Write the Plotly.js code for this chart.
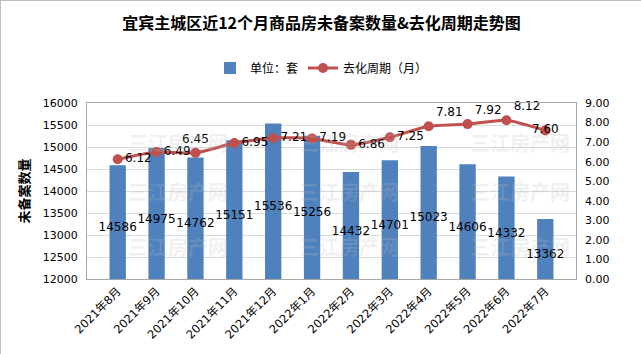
<!DOCTYPE html>
<html><head><meta charset="utf-8">
<script src="https://cdn.plot.ly/plotly-3.0.1.min.js"></script>
<style>html,body{margin:0;padding:0;background:#fff}#chart{width:641px;height:354px;box-sizing:border-box;border:1px solid #BFBFBF}</style>
</head><body><div id="chart"></div>
<script>
const months = ['2021年8月','2021年9月','2021年10月','2021年11月','2021年12月','2022年1月','2022年2月','2022年3月','2022年4月','2022年5月','2022年6月','2022年7月'];
const unsold = [14586,14975,14762,15151,15536,15256,14432,14701,15023,14606,14332,13362];
const cycle = [6.12,6.49,6.45,6.95,7.21,7.19,6.86,7.25,7.81,7.92,8.12,7.60];
const cycleLabelPos = ['middle right','middle right','top center','middle right','middle right','middle right','middle right','middle right','top right','top right','top right','middle center'];
const yMin = 12000;

const fontCJK = 'Noto Sans CJK SC, sans-serif';
const fontNum = 'DejaVu Sans, Noto Sans CJK SC, sans-serif';

const traces = [
  {type:'bar', name:'单位：套', x:months, y:unsold, marker:{color:'#4F81BD'}, hoverinfo:'x+y'},
  {type:'scatter', mode:'text', showlegend:false, x:months, y:unsold.map(v=>(v+yMin)/2),
   text:unsold.map(String), textposition:'bottom center', cliponaxis:false,
   textfont:{family:fontNum,size:12,color:'#000'}, hoverinfo:'skip'},
  {type:'scatter', mode:'lines+markers+text', name:'去化周期（月）', x:months, y:cycle, yaxis:'y2',
   line:{color:'#C0504D',width:3,shape:'spline',smoothing:0.6}, marker:{color:'#C0504D',size:10},
   text:cycle.map(v=>v.toFixed(2)), textposition:cycleLabelPos, cliponaxis:false,
   textfont:{family:fontNum,size:12,color:'#000'}}
];

const wm = [];
[0.87,0.5,0.09].forEach(yy=>{[0.08,0.43,0.78].forEach(xx=>{
  wm.push({xref:'paper',yref:'paper',x:xx,y:yy,text:'三江房产网',showarrow:false,
    font:{family:fontCJK,size:20,color:'rgba(190,190,190,0.22)',weight:'bold'},xanchor:'left'});
});});

const layout = {
  width:641, height:354, margin:{l:86,r:66,t:102,b:76},
  paper_bgcolor:'#fff', plot_bgcolor:'#fff',
  title:{text:'宜宾主城区近12个月商品房未备案数量&去化周期走势图', font:{family:fontCJK,size:16,color:'#000',weight:'bold'},
    x:0.5, xanchor:'center', y:1-22/354, yanchor:'middle', yref:'container'},
  legend:{orientation:'h', x:0.5, xanchor:'center', xref:'container', y:1-67/354, yanchor:'middle', yref:'container',
    font:{family:fontCJK,size:12,color:'#000'}, itemwidth:30},
  bargap:0.58,
  xaxis:{type:'category', tickangle:-45, tickfont:{family:fontNum,size:11.5,color:'#000'}, showline:true, linecolor:'#A6A6A6', mirror:true, showgrid:false, ticks:'', automargin:false},
  yaxis:{range:[yMin,16000], dtick:500, tickformat:'d', tickfont:{family:fontNum,size:11,color:'#000'}, gridcolor:'#D9D9D9', showline:true, linecolor:'#A6A6A6', mirror:true, zeroline:false, ticklabelstandoff:6,
    title:{text:'未备案数量', font:{family:fontCJK,size:13,color:'#000',weight:'bold'}, standoff:10}},
  yaxis2:{overlaying:'y', side:'right', range:[0,9], dtick:1, tickformat:'.2f', tickfont:{family:fontNum,size:11,color:'#000'}, showgrid:false, zeroline:false, ticklabelstandoff:8},
  annotations:wm
};
Plotly.newPlot('chart', traces, layout, {displayModeBar:false, staticPlot:true});
</script></body></html>
